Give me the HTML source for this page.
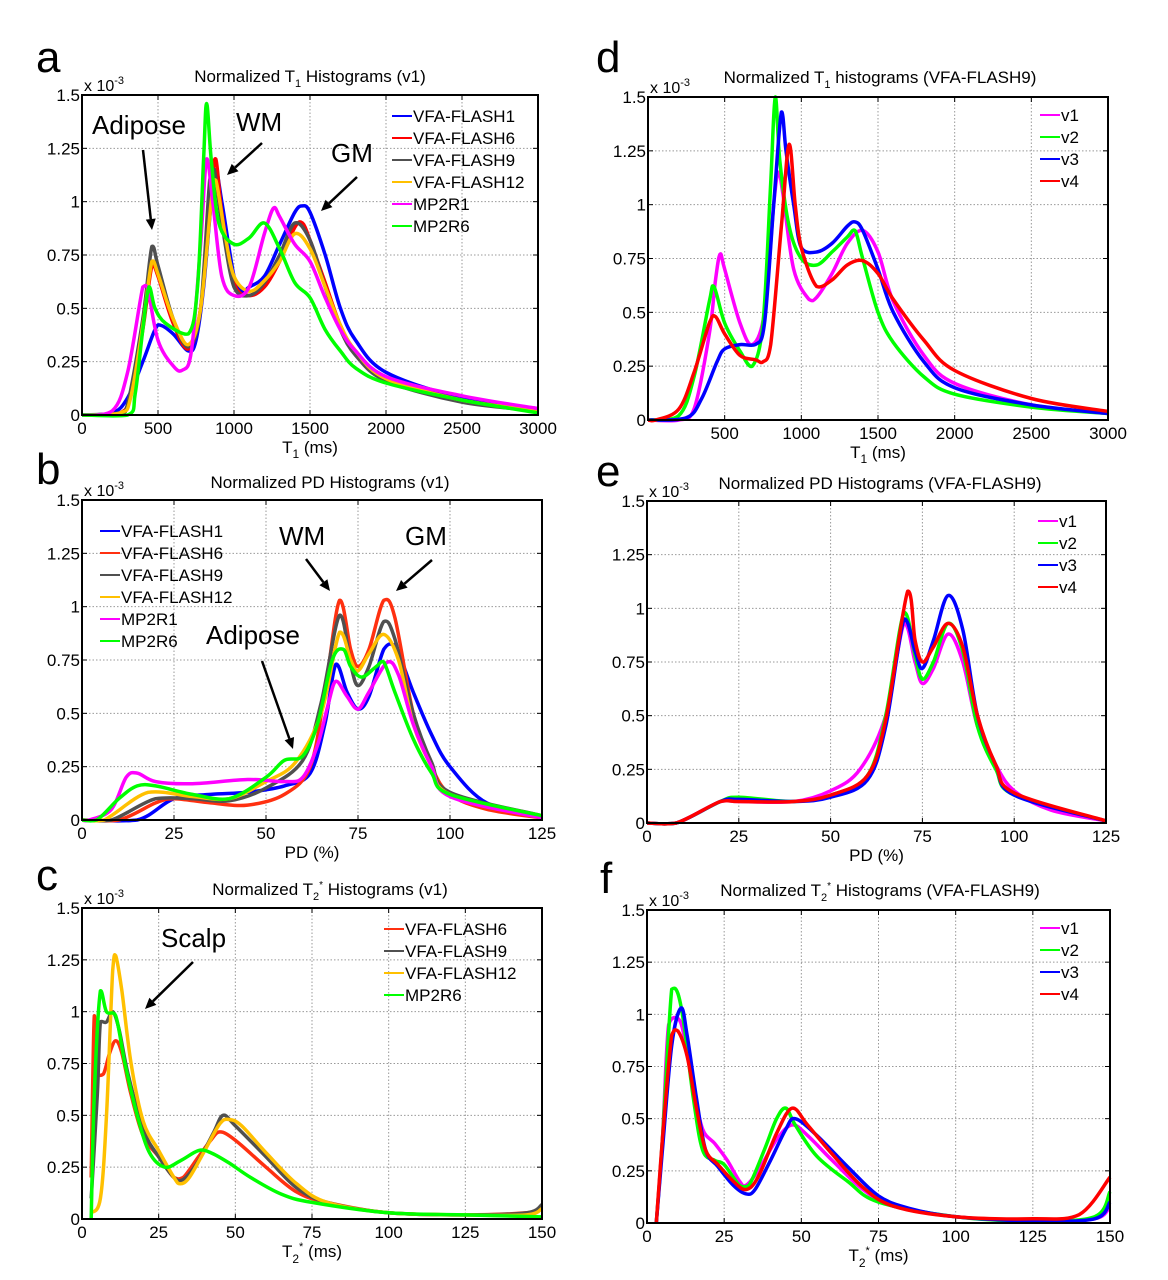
<!DOCTYPE html>
<html><head><meta charset="utf-8"><style>
html,body{margin:0;padding:0;background:#fff;}
svg{display:block;font-family:"Liberation Sans",Arial,sans-serif;}
</style></head><body>
<svg id="fig" width="1168" height="1280" viewBox="0 0 1168 1280" xmlns="http://www.w3.org/2000/svg"></svg>
<script>
// ---- data (y in units of 1e-3) ----
const yTicks = [0,0.25,0.5,0.75,1,1.25,1.5];
const yTickLabels = ["0","0.25","0.5","0.75","1","1.25","1.5"];
const t1Ticks = [0,500,1000,1500,2000,2500,3000];
const t1TickLabelsA = ["0","500","1000","1500","2000","2500","3000"];
const t1TickLabelsD = ["","500","1000","1500","2000","2500","3000"];
const pdTicks = [0,25,50,75,100,125];
const pdTickLabels = ["0","25","50","75","100","125"];
const t2Ticks = [0,25,50,75,100,125,150];
const t2TickLabels = ["0","25","50","75","100","125","150"];

// panel a
const a_vfa1 = [[0,0],[200,0.01],[300,0.08],[400,0.25],[480,0.4],[520,0.42],[600,0.38],[700,0.3],[750,0.35],[800,0.6],[850,1.0],[880,1.15],[920,1.0],[1000,0.65],[1050,0.58],[1100,0.6],[1200,0.65],[1300,0.8],[1400,0.95],[1450,0.98],[1500,0.95],[1600,0.75],[1700,0.5],[1800,0.35],[2000,0.2],[2500,0.08],[3000,0.03]];
const a_vfa6 = [[0,0],[250,0.01],[320,0.1],[400,0.4],[460,0.7],[500,0.65],[600,0.43],[700,0.31],[780,0.5],[850,1.05],[880,1.2],[920,0.95],[1000,0.62],[1100,0.56],[1200,0.6],[1300,0.72],[1400,0.88],[1450,0.9],[1500,0.82],[1600,0.62],[1700,0.42],[1800,0.3],[2000,0.17],[2500,0.07],[3000,0.02]];
const a_vfa9 = [[0,0],[250,0.01],[300,0.05],[400,0.45],[460,0.79],[500,0.7],[600,0.45],[700,0.32],[780,0.5],[840,1.1],[870,1.15],[920,0.9],[1000,0.6],[1100,0.56],[1200,0.62],[1300,0.75],[1400,0.9],[1500,0.82],[1600,0.6],[1700,0.4],[1800,0.28],[2000,0.16],[2500,0.06],[3000,0.02]];
const a_vfa12 = [[0,0],[250,0.01],[320,0.08],[400,0.42],[460,0.72],[500,0.66],[600,0.45],[700,0.33],[780,0.5],[850,1.0],[880,1.1],[940,0.85],[1000,0.65],[1100,0.58],[1200,0.63],[1300,0.72],[1400,0.85],[1500,0.78],[1600,0.6],[1700,0.42],[1800,0.3],[2000,0.17],[2500,0.07],[3000,0.02]];
const a_mp2r1 = [[0,0],[200,0.02],[300,0.2],[400,0.6],[430,0.6],[500,0.35],[600,0.23],[660,0.21],[720,0.3],[780,0.8],[820,1.2],[860,1.0],[920,0.65],[1000,0.56],[1100,0.6],[1200,0.85],[1260,0.97],[1300,0.93],[1400,0.8],[1500,0.72],[1600,0.55],[1700,0.4],[1800,0.3],[2000,0.18],[2500,0.09],[3000,0.03]];
const a_mp2r6 = [[0,0],[300,0],[350,0.1],[400,0.4],[440,0.6],[480,0.5],[550,0.43],[700,0.38],[760,0.6],[800,1.2],[820,1.46],[850,1.2],[900,0.9],[1000,0.8],[1100,0.83],[1200,0.9],[1300,0.78],[1400,0.62],[1500,0.55],[1600,0.4],[1700,0.3],[1800,0.22],[2000,0.15],[2500,0.07],[3000,0.01]];

// panel d
const d_v1 = [[0,0],[200,0],[300,0.05],[400,0.4],[440,0.65],[470,0.77],[500,0.7],[600,0.45],[680,0.35],[760,0.5],[820,1.0],[850,1.15],[880,1.05],[950,0.7],[1050,0.56],[1100,0.57],[1200,0.68],[1300,0.82],[1400,0.88],[1500,0.78],[1600,0.55],[1800,0.3],[2000,0.17],[2500,0.07],[3000,0.03]];
const d_v2 = [[0,0],[200,0.02],[300,0.2],[400,0.55],[430,0.62],[500,0.45],[600,0.32],[680,0.25],[750,0.45],[800,1.1],[830,1.5],[860,1.2],[920,0.9],[1000,0.75],[1100,0.72],[1200,0.78],[1300,0.85],[1350,0.88],[1400,0.75],[1500,0.5],[1600,0.36],[1800,0.2],[2000,0.12],[2500,0.06],[3000,0.03]];
const d_v3 = [[0,0],[250,0.01],[350,0.1],[450,0.27],[500,0.33],[600,0.35],[700,0.35],[760,0.45],[820,1.0],[870,1.43],[900,1.25],[950,1.0],[1000,0.8],[1100,0.78],[1200,0.82],[1300,0.9],[1350,0.92],[1400,0.88],[1500,0.7],[1600,0.5],[1800,0.27],[2000,0.15],[2500,0.07],[3000,0.03]];
const d_v4 = [[0,0],[50,0],[200,0.05],[300,0.22],[400,0.45],[440,0.48],[500,0.4],[600,0.3],[700,0.28],[750,0.27],[800,0.35],[870,0.9],[920,1.28],[960,1.0],[1000,0.8],[1100,0.62],[1200,0.65],[1300,0.72],[1400,0.74],[1500,0.68],[1600,0.56],[1800,0.37],[2000,0.23],[2500,0.1],[3000,0.04]];

// panel b
const b_vfa1 = [[0,0],[15,0],[25,0.1],[35,0.12],[45,0.13],[55,0.16],[62,0.22],[66,0.45],[69,0.73],[72,0.6],[75,0.52],[78,0.58],[82,0.8],[85,0.82],[90,0.6],[95,0.4],[100,0.25],[110,0.08],[125,0.02]];
const b_vfa6 = [[0,0],[10,0],[20,0.08],[25,0.1],[35,0.08],[45,0.07],[55,0.12],[62,0.25],[66,0.6],[70,1.03],[73,0.8],[75,0.72],[78,0.8],[82,1.03],[85,0.95],[90,0.5],[95,0.25],[100,0.12],[110,0.05],[125,0.01]];
const b_vfa9 = [[0,0],[8,0],[20,0.1],[30,0.1],[40,0.09],[50,0.15],[60,0.28],[65,0.55],[70,0.96],[73,0.73],[75,0.63],[78,0.72],[82,0.93],[85,0.85],[90,0.5],[95,0.27],[100,0.13],[125,0.02]];
const b_vfa12 = [[0,0],[6,0],[18,0.13],[30,0.11],[40,0.1],[50,0.18],[58,0.27],[65,0.5],[70,0.88],[73,0.75],[75,0.7],[78,0.78],[82,0.87],[86,0.75],[90,0.45],[95,0.25],[100,0.12],[125,0.02]];
const b_mp2r1 = [[0,0],[2,0],[8,0.05],[12,0.2],[15,0.22],[20,0.18],[30,0.17],[45,0.19],[55,0.18],[60,0.2],[64,0.35],[67,0.55],[69,0.65],[72,0.58],[75,0.52],[78,0.6],[83,0.74],[86,0.68],[90,0.45],[95,0.25],[100,0.11],[125,0.01]];
const b_mp2r6 = [[0,0],[4,0],[10,0.1],[15,0.16],[20,0.16],[30,0.12],[40,0.1],[50,0.2],[55,0.28],[60,0.3],[64,0.45],[68,0.75],[71,0.8],[73,0.72],[76,0.67],[80,0.72],[82,0.74],[85,0.6],[90,0.38],[95,0.22],[100,0.12],[125,0.02]];

// panel e
const e_v1 = [[0,0],[8,0],[20,0.1],[25,0.1],[40,0.1],[50,0.15],[58,0.25],[65,0.5],[70,0.93],[73,0.75],[75,0.65],[78,0.72],[82,0.88],[86,0.75],[90,0.45],[95,0.27],[100,0.15],[110,0.06],[125,0.01]];
const e_v2 = [[0,0],[8,0],[20,0.1],[25,0.12],[40,0.1],[50,0.13],[60,0.22],[65,0.5],[70,0.98],[73,0.78],[75,0.67],[78,0.75],[82,0.93],[86,0.8],[90,0.45],[95,0.25],[100,0.13],[125,0.01]];
const e_v3 = [[0,0],[8,0],[20,0.1],[25,0.11],[40,0.1],[50,0.12],[60,0.2],[65,0.45],[70,0.95],[73,0.8],[75,0.72],[78,0.85],[82,1.06],[86,0.9],[90,0.5],[95,0.27],[100,0.13],[125,0.01]];
const e_v4 = [[0,0],[8,0],[20,0.1],[25,0.1],[40,0.1],[50,0.13],[60,0.22],[65,0.48],[71,1.08],[73,0.85],[75,0.75],[78,0.82],[82,0.93],[86,0.82],[90,0.5],[95,0.27],[100,0.14],[125,0.01]];

// panel c
const c_vfa6 = [[3,0.2],[4,0.98],[5,0.7],[7,0.7],[9,0.8],[11,0.86],[13,0.8],[16,0.6],[20,0.4],[25,0.3],[30,0.2],[33,0.2],[38,0.3],[42,0.38],[45,0.42],[50,0.38],[60,0.25],[70,0.13],[80,0.08],[100,0.03],[125,0.02],[145,0.03],[150,0.05]];
const c_vfa9 = [[3,0.1],[5,0.6],[6,0.95],[8,0.95],[10,1.0],[12,0.92],[15,0.7],[20,0.43],[25,0.3],[30,0.2],[33,0.19],[38,0.28],[43,0.42],[46,0.5],[50,0.45],[60,0.3],[70,0.15],[80,0.08],[100,0.03],[125,0.02],[145,0.03],[150,0.07]];
const c_vfa12 = [[3,0.03],[6,0.1],[8,0.5],[10,1.2],[11,1.27],[13,1.1],[16,0.75],[20,0.47],[25,0.33],[30,0.2],[32,0.17],[35,0.2],[40,0.33],[45,0.46],[48,0.48],[52,0.45],[60,0.32],[70,0.17],[80,0.08],[100,0.03],[125,0.02],[145,0.02],[150,0.05]];
const c_mp2r6 = [[3,0],[4,0.6],[6,1.1],[8,1.0],[11,0.98],[14,0.75],[18,0.5],[22,0.32],[27,0.25],[32,0.28],[38,0.33],[42,0.32],[48,0.27],[55,0.2],[65,0.12],[75,0.08],[100,0.03],[125,0.02],[150,0.01]];

// panel f
const f_v1 = [[3,0],[5,0.4],[7,0.95],[10,0.98],[12,0.9],[15,0.65],[18,0.45],[22,0.38],[26,0.3],[30,0.2],[32,0.18],[36,0.25],[42,0.4],[47,0.47],[52,0.42],[60,0.3],[70,0.16],[80,0.08],[100,0.03],[125,0.01],[145,0.02],[150,0.08]];
const f_v2 = [[3,0],[5,0.4],[8,1.12],[10,1.1],[12,0.95],[15,0.6],[18,0.35],[22,0.3],[25,0.28],[30,0.18],[33,0.18],[38,0.35],[42,0.5],[45,0.55],[48,0.47],[55,0.32],[65,0.2],[75,0.1],[100,0.03],[125,0.01],[145,0.03],[150,0.15]];
const f_v3 = [[3,0],[5,0.35],[8,0.85],[11,1.03],[13,0.9],[16,0.6],[19,0.35],[23,0.27],[28,0.18],[32,0.14],[35,0.16],[40,0.3],[45,0.45],[48,0.5],[55,0.42],[65,0.27],[75,0.13],[85,0.07],[100,0.03],[125,0.01],[145,0.02],[150,0.1]];
const f_v4 = [[3,0],[5,0.4],[8,0.9],[10,0.92],[13,0.8],[16,0.55],[19,0.35],[23,0.28],[28,0.2],[32,0.16],[36,0.22],[42,0.43],[47,0.55],[52,0.47],[60,0.33],[70,0.17],[80,0.08],[100,0.03],[125,0.02],[140,0.04],[150,0.22]];

// ---- drawing ----
const NS = "http://www.w3.org/2000/svg";
const svg = document.getElementById("fig");
function mk(tag, attrs, parent) {
  const e = document.createElementNS(NS, tag);
  for (const k in attrs) e.setAttribute(k, attrs[k]);
  (parent || svg).appendChild(e);
  return e;
}
const COL = {blue:"#0000ff", red:"#ff0000", ored:"#ff3010", gray:"#505050", yellow:"#ffc000", magenta:"#ff00ff", green:"#00ff00"};

function smoothPath(P) {
  let d = "M" + P[0][0].toFixed(1) + "," + P[0][1].toFixed(1);
  for (let i = 0; i < P.length - 1; i++) {
    const p0 = P[Math.max(0, i - 1)], p1 = P[i], p2 = P[i + 1], p3 = P[Math.min(P.length - 1, i + 2)];
    const k = 1 / 6;
    let c1x = p1[0] + (p2[0] - p0[0]) * k, c1y = p1[1] + (p2[1] - p0[1]) * k;
    let c2x = p2[0] - (p3[0] - p1[0]) * k, c2y = p2[1] - (p3[1] - p1[1]) * k;
    const lo = Math.min(p1[1], p2[1]) - 2, hi = Math.max(p1[1], p2[1]) + 2;
    c1y = Math.min(hi, Math.max(lo, c1y)); c2y = Math.min(hi, Math.max(lo, c2y));
    d += " C" + c1x.toFixed(1) + "," + c1y.toFixed(1) + " " + c2x.toFixed(1) + "," + c2y.toFixed(1) + " " + p2[0].toFixed(1) + "," + p2[1].toFixed(1);
  }
  return d;
}

function panel(cfg) {
  const g = mk("g", {});
  
  
  const L = cfg.L, R = cfg.R, T = cfg.T, B = cfg.B;
  const xs = v => L + (v - cfg.xmin) / (cfg.xmax - cfg.xmin) * (R - L);
  const ys = v => B - v / 1.5 * (B - T);
  cfg.xticks.forEach((t, i) => {
    const x = xs(t);
    if (t > cfg.xmin && t < cfg.xmax) {
      const gl = mk("line", {x1:x, y1:T, x2:x, y2:B, stroke:"#999", "stroke-width":1, "stroke-dasharray":"1.5,2"}, g);
      
      
    }
    mk("line", {x1:x, y1:B, x2:x, y2:B-5, stroke:"#000", "stroke-width":1}, g);
    mk("line", {x1:x, y1:T, x2:x, y2:T+5, stroke:"#000", "stroke-width":1}, g);
    const tl = mk("text", {x:x, y:B+19, "font-size":17, "text-anchor":"middle", fill:"#000"}, g);
    tl.textContent = cfg.xlabels[i];
    
    
  });
  yTicks.forEach((t, i) => {
    const y = ys(t);
    if (t > 0 && t < 1.5) {
      const gl = mk("line", {x1:L, y1:y, x2:R, y2:y, stroke:"#999", "stroke-width":1, "stroke-dasharray":"1.5,2"}, g);
      
      
    }
    mk("line", {x1:L, y1:y, x2:L+5, y2:y, stroke:"#000", "stroke-width":1}, g);
    mk("line", {x1:R, y1:y, x2:R-5, y2:y, stroke:"#000", "stroke-width":1}, g);
    const tl = mk("text", {x:L-2, y:y+6, "font-size":17, "text-anchor":"end", fill:"#000"}, g);
    tl.textContent = yTickLabels[i];
    
    
  });
  cfg.series.forEach(s => {
    const P = s.data.map(p => [xs(p[0]), ys(p[1])]);
    const pl = mk("path", {d:smoothPath(P), fill:"none", stroke:s.color, "stroke-width":3.5, "stroke-linejoin":"round"}, g);
    
    
  });
  const fr = mk("rect", {x:L, y:T, width:R-L, height:B-T, fill:"none", stroke:"#000", "stroke-width":2}, g);
  
  
  const ex = mk("text", {x:L+2, y:T-4, "font-size":16, fill:"#000"}, g);
  ex.innerHTML = 'x 10<tspan dy="-7" font-size="11">-3</tspan>';
  
  
  const ti = mk("text", {x:cfg.tx, y:cfg.ty, "font-size":17, "text-anchor":"middle", fill:"#000"}, g);
  ti.innerHTML = cfg.title;
  
  
  const xl = mk("text", {x:(L+R)/2, y:B+38, "font-size":17, "text-anchor":"middle", fill:"#000"}, g);
  xl.innerHTML = cfg.xtitle;
  
  
  const pl = mk("text", {x:cfg.lx, y:cfg.ly, "font-size":44, fill:"#000"}, g);
  pl.textContent = cfg.id;
  
  
  cfg.series.forEach((s, i) => {
    const y = cfg.legY + i * 22;
    const lg = mk("g", {}, g);
    
    
    mk("line", {x1:cfg.legX, y1:y, x2:cfg.legX+20, y2:y, stroke:s.color, "stroke-width":2}, lg);
    const t = mk("text", {x:cfg.legX+21, y:y+6, "font-size":17, fill:"#000"}, lg);
    t.textContent = s.name;
  });
  return g;
}

function annot(text, tx, ty, x1, y1, x2, y2) {
  const t = mk("text", {x:tx, y:ty, "font-size":26, fill:"#000"});
  t.textContent = text;
  
  
  const ang = Math.atan2(y2 - y1, x2 - x1);
  const hl = 11, hw = 5;
  const bx = x2 - hl * Math.cos(ang), by = y2 - hl * Math.sin(ang);
  const a = mk("g", {});
  
  
  mk("line", {x1:x1, y1:y1, x2:bx, y2:by, stroke:"#000", "stroke-width":2.5}, a);
  const px = -Math.sin(ang) * hw, py = Math.cos(ang) * hw;
  mk("polygon", {points:`${x2},${y2} ${bx+px},${by+py} ${bx-px},${by-py}`, fill:"#000"}, a);
}

panel({id:"a", L:82, R:538, T:95, B:415, xmin:0, xmax:3000, xticks:t1Ticks, xlabels:t1TickLabelsA,
  title:'Normalized T<tspan dy="5" font-size="11">1</tspan><tspan dy="-5"> Histograms (v1)</tspan>', tx:310, ty:82,
  xtitle:'T<tspan dy="5" font-size="12">1</tspan><tspan dy="-5"> (ms)</tspan>', lx:36, ly:72, legX:392, legY:116,
  series:[{name:"VFA-FLASH1",color:COL.blue,data:a_vfa1},{name:"VFA-FLASH6",color:COL.red,data:a_vfa6},{name:"VFA-FLASH9",color:COL.gray,data:a_vfa9},{name:"VFA-FLASH12",color:COL.yellow,data:a_vfa12},{name:"MP2R1",color:COL.magenta,data:a_mp2r1},{name:"MP2R6",color:COL.green,data:a_mp2r6}]});
panel({id:"d", L:648, R:1108, T:97, B:420, xmin:0, xmax:3000, xticks:t1Ticks, xlabels:t1TickLabelsD,
  title:'Normalized T<tspan dy="5" font-size="11">1</tspan><tspan dy="-5"> histograms (VFA-FLASH9)</tspan>', tx:880, ty:83,
  xtitle:'T<tspan dy="5" font-size="12">1</tspan><tspan dy="-5"> (ms)</tspan>', lx:596, ly:72, legX:1040, legY:115,
  series:[{name:"v1",color:COL.magenta,data:d_v1},{name:"v2",color:COL.green,data:d_v2},{name:"v3",color:COL.blue,data:d_v3},{name:"v4",color:COL.red,data:d_v4}]});
panel({id:"b", L:82, R:542, T:500, B:820, xmin:0, xmax:125, xticks:pdTicks, xlabels:pdTickLabels,
  title:'Normalized PD Histograms (v1)', tx:330, ty:488,
  xtitle:'PD (%)', lx:36, ly:484, legX:100, legY:531,
  series:[{name:"VFA-FLASH1",color:COL.blue,data:b_vfa1},{name:"VFA-FLASH6",color:COL.ored,data:b_vfa6},{name:"VFA-FLASH9",color:COL.gray,data:b_vfa9},{name:"VFA-FLASH12",color:COL.yellow,data:b_vfa12},{name:"MP2R1",color:COL.magenta,data:b_mp2r1},{name:"MP2R6",color:COL.green,data:b_mp2r6}]});
panel({id:"e", L:647, R:1106, T:501, B:823, xmin:0, xmax:125, xticks:pdTicks, xlabels:pdTickLabels,
  title:'Normalized PD Histograms (VFA-FLASH9)', tx:880, ty:489,
  xtitle:'PD (%)', lx:596, ly:486, legX:1038, legY:521,
  series:[{name:"v1",color:COL.magenta,data:e_v1},{name:"v2",color:COL.green,data:e_v2},{name:"v3",color:COL.blue,data:e_v3},{name:"v4",color:COL.red,data:e_v4}]});
panel({id:"c", L:82, R:542, T:908, B:1219, xmin:0, xmax:150, xticks:t2Ticks, xlabels:t2TickLabels,
  title:'Normalized T<tspan dy="5" font-size="11">2</tspan><tspan dy="-12" font-size="10">*</tspan><tspan dy="7"> Histograms (v1)</tspan>', tx:330, ty:895,
  xtitle:'T<tspan dy="6" font-size="12">2</tspan><tspan dy="-13" font-size="11">*</tspan><tspan dy="7"> (ms)</tspan>', lx:36, ly:890, legX:384, legY:929,
  series:[{name:"VFA-FLASH6",color:COL.ored,data:c_vfa6},{name:"VFA-FLASH9",color:COL.gray,data:c_vfa9},{name:"VFA-FLASH12",color:COL.yellow,data:c_vfa12},{name:"MP2R6",color:COL.green,data:c_mp2r6}]});
panel({id:"f", L:647, R:1110, T:910, B:1223, xmin:0, xmax:150, xticks:t2Ticks, xlabels:t2TickLabels,
  title:'Normalized T<tspan dy="5" font-size="11">2</tspan><tspan dy="-12" font-size="10">*</tspan><tspan dy="7"> Histograms (VFA-FLASH9)</tspan>', tx:880, ty:896,
  xtitle:'T<tspan dy="6" font-size="12">2</tspan><tspan dy="-13" font-size="11">*</tspan><tspan dy="7"> (ms)</tspan>', lx:600, ly:893, legX:1040, legY:928,
  series:[{name:"v1",color:COL.magenta,data:f_v1},{name:"v2",color:COL.green,data:f_v2},{name:"v3",color:COL.blue,data:f_v3},{name:"v4",color:COL.red,data:f_v4}]});

annot("Adipose", 92, 134, 143, 150, 152, 230);
annot("WM", 236, 131, 262, 143, 227, 175);
annot("GM", 331, 162, 357, 177, 321, 211);
annot("WM", 279, 545, 306, 559, 330, 591);
annot("GM", 405, 545, 432, 560, 396, 591);
annot("Adipose", 206, 644, 262, 661, 293, 749);
annot("Scalp", 161, 947, 193, 962, 145, 1009);
</script>
</body></html>
